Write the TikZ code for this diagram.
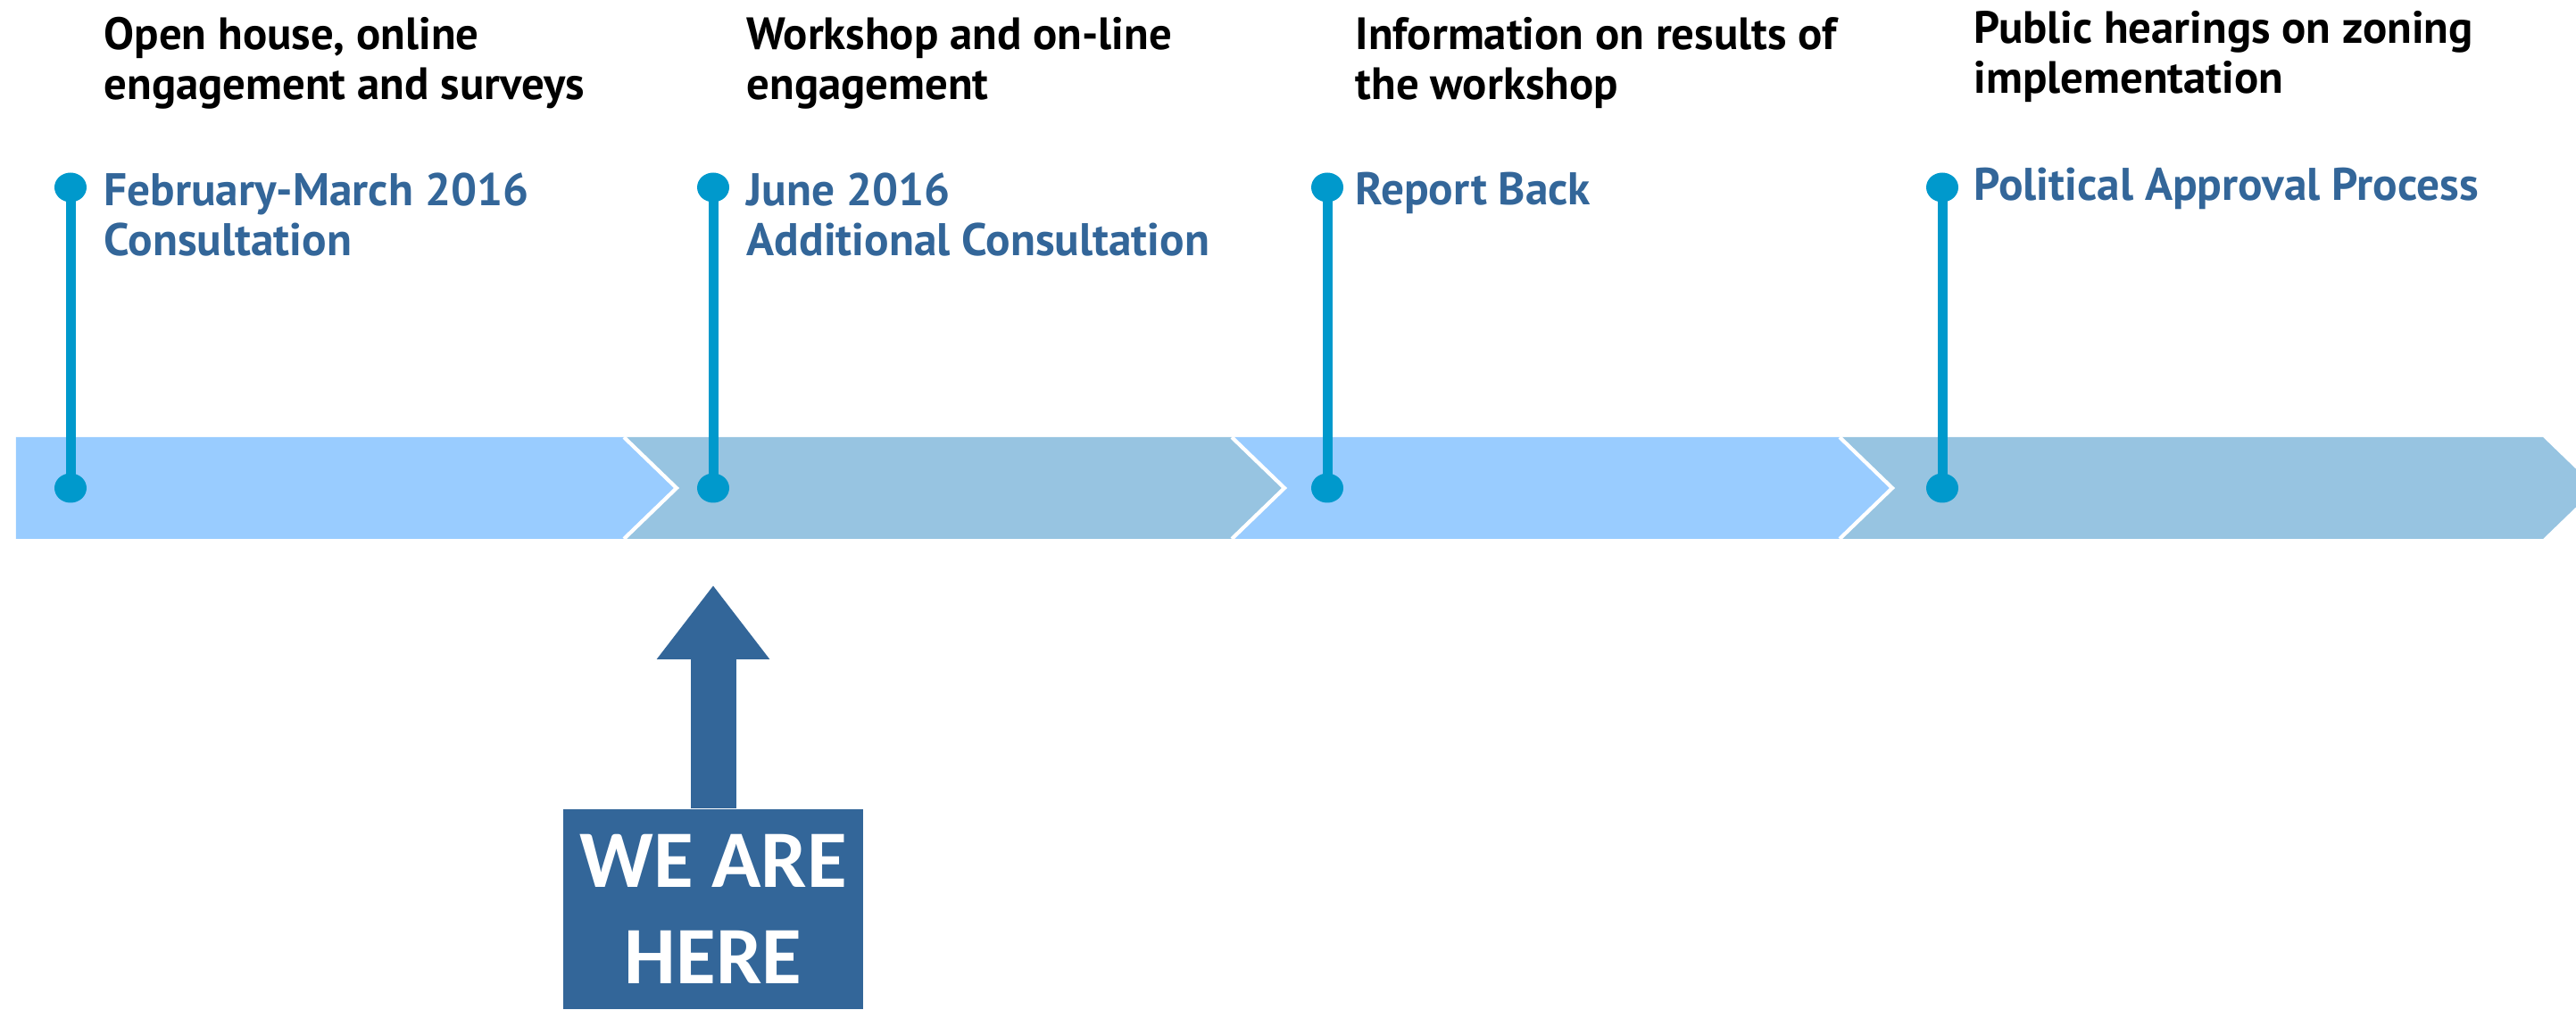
\documentclass[tikz,border=0pt]{standalone}
\usepackage{fontspec}
\setmainfont{PT Sans}
\newfontfamily\herefont{Carlito}
\usetikzlibrary{positioning,arrows.meta}
\definecolor{bandlight}{HTML}{99CCFF}
\definecolor{bandsteel}{HTML}{97C4E1}
\definecolor{pinblue}{HTML}{0099CC}
\definecolor{dateblue}{HTML}{336699}
\tikzset{
  heading/.style={anchor=base west,inner sep=0pt,align=left,font=\bfseries\fontsize{14.45}{16.2}\selectfont},
  phase/.style={anchor=base west,inner sep=0pt,align=left,text=dateblue,font=\bfseries\fontsize{14.6}{16.2}\selectfont},
  pinend/.style={ellipse,fill=pinblue,inner sep=0pt,minimum width=0.36cm,minimum height=0.33cm},
  pinline/.style={pinblue,line width=0.11cm},
}
\usetikzlibrary{shapes.geometric}

\begin{document}
\begin{tikzpicture}[x=1cm,y=1cm]
\useasboundingbox (0,0) rectangle (28.86,11.31);
\clip (0,0) rectangle (28.86,11.31);
% band of four chevrons
\fill[bandlight] (0.18,5.27) -- (0.18,6.41) -- (6.99,6.41) -- (7.58,5.84) -- (6.99,5.27) -- cycle;
\foreach \xa/\xb/\col in {6.99/13.80/bandsteel,13.80/20.61/bandlight,20.61/28.49/bandsteel}
  \fill[\col] (\xa,5.27) -- ++(0.59,0.57) -- (\xa,6.41) -- (\xb,6.41) -- ++(0.59,-0.57) -- (\xb,5.27) -- cycle;
\foreach \xa in {6.99,13.80,20.61}
  \draw[white,line width=1.2pt] (\xa,6.41) -- ++(0.59,-0.57) -- ++(-0.59,-0.57);
% pins
\foreach \n/\xx in {a/0.79,b/7.99,c/14.87,d/21.76} {
  \node[pinend] (top\n) at (\xx,9.21) {};
  \node[pinend] (foot\n) at (\xx,5.84) {};
  \draw[pinline] (top\n.center) -- (foot\n.center);
}
% what happens at each step (base = last line)
\node[heading] (heada) at (1.16,10.19) {Open house, online\\engagement and surveys};
\node[heading] (headb) at (8.36,10.19) {Workshop and on-line\\engagement};
\node[heading] (headc) at (15.18,10.19) {Information on results of\\the workshop};
\node[heading] (headd) at (22.11,10.26) {Public hearings on zoning\\implementation};
\node[phase] (phasea) at (1.16,8.44) {February-March 2016\\Consultation};
\node[phase] (phaseb) at (8.36,8.44) {June 2016\\Additional Consultation};
\node[phase] (phasec) at (15.18,9.01) {Report Back};
\node[phase] (phased) at (22.11,9.06) {Political Approval Process};
% marker
\node[fill=dateblue,minimum width=3.36cm,minimum height=2.24cm,inner sep=0pt,text=white,align=center,
  font=\herefont\bfseries\fontsize{26}{30.7}\selectfont] (here) at (7.99,1.12) {WE ARE\\HERE};
\coordinate (hereTip) at (7.99,4.75);
\draw[dateblue,line width=0.51cm,-{Triangle[length=0.83cm,width=1.21cm]}] (here) -- (hereTip);
\end{tikzpicture}
\end{document}
